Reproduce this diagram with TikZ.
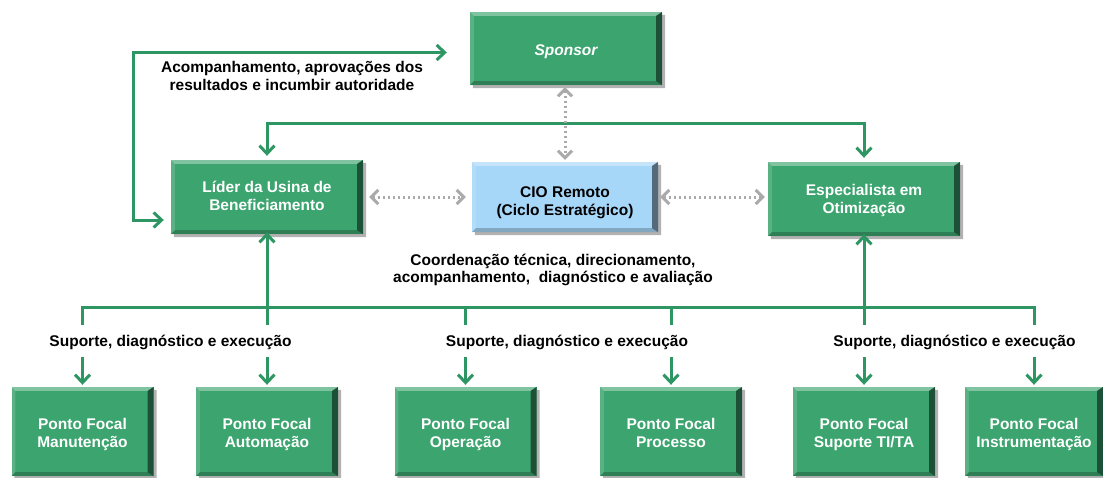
\documentclass[tikz,border=0pt]{standalone}
\usepackage{fontspec}
\setmainfont{Liberation Sans}
\usetikzlibrary{arrows.meta}

\definecolor{boxgreen}{RGB}{60,164,111}
\definecolor{linegreen}{RGB}{46,150,98}
\definecolor{cioblue}{RGB}{166,214,248}
\definecolor{dotgray}{RGB}{170,170,170}

% raised panel look: shadow below/right, light top-left edges, dark bottom-right edges
\newcommand\raisedpanel[1]{%
  \fill[gray!60] ([shift={(3,0)}]#1.south west) -- ([shift={(3,3)}]#1.south west)
    -- ([shift={(3,3)}]#1.south east) -- ([shift={(3,3)}]#1.north east)
    -- ([shift={(0,3)}]#1.north east) -- (#1.south east) -- cycle;
  \fill[white,opacity=.35] (#1.north west) -- (#1.north east)
    -- ([shift={(-6,4)}]#1.north east) -- ([shift={(4,4)}]#1.north west) -- cycle;
  \fill[white,opacity=.15] (#1.north west) -- ([shift={(4,4)}]#1.north west)
    -- ([shift={(4,-4)}]#1.south west) -- (#1.south west) -- cycle;
  \fill[black,opacity=.5] (#1.north east) -- (#1.south east)
    -- ([shift={(-6,-4)}]#1.south east) -- ([shift={(-6,4)}]#1.north east) -- cycle;
  \fill[black,opacity=.22] (#1.south west) -- (#1.south east)
    -- ([shift={(-6,-4)}]#1.south east) -- ([shift={(4,-4)}]#1.south west) -- cycle;
}

\tikzset{
  panel/.style={fill=boxgreen, inner sep=0pt},
  paneltext/.style={text=white, inner sep=0pt, align=center,
    font=\bfseries\fontsize{15.5}{18}\selectfont},
  topbox/.style={panel, minimum width=192pt, minimum height=74pt},
  pfbox/.style={panel, minimum width=142pt, minimum height=89pt},
  cioboxstyle/.style={panel, fill=cioblue, minimum width=186pt, minimum height=70pt},
  caption/.style={font=\bfseries\fontsize{15.5}{17.5}\selectfont, align=center, text=black, inner sep=0pt},
  gline/.style={draw=linegreen, line width=3pt},
  gtip/.tip={Straight Barb[length=8pt, width=15pt, line width=3pt]},
  garrow/.style={gline, -gtip},
  gboth/.style={gline, gtip-gtip},
  graytip/.tip={Straight Barb[length=7pt, width=14pt, line width=3pt]},
  gdot/.style={draw=dotgray, line width=3pt, dash pattern=on 2.5pt off 2.5pt, graytip-graytip}
}

\begin{document}
\begin{tikzpicture}[x=1pt, y=-1pt]
\useasboundingbox (0,0) rectangle (1103,477);

% upper level
\node[topbox, minimum height=73pt] (sponsor) at (566,48.5) {};
\node[topbox] (lider) at (267,197) {};
\node[cioboxstyle] (cio) at (565,197) {};
\node[topbox] (esp) at (864,199) {};

% focal points
\node[pfbox] (pfman) at (82.5,431.5) {};
\node[pfbox] (pfaut) at (267,431.5) {};
\node[pfbox] (pfope) at (465.5,431.5) {};
\node[pfbox] (pfpro) at (671,431.5) {};
\node[pfbox] (pfsup) at (864,431.5) {};
\node[pfbox, minimum width=138pt] (pfins) at (1034,431.5) {};

\foreach \n in {sponsor,lider,cio,esp,pfman,pfaut,pfope,pfpro,pfsup,pfins}
  \raisedpanel{\n};

% panel texts
\node[paneltext, font=\bfseries\itshape\fontsize{15.5}{18}\selectfont] (sponsor-t) at ([shift={(0,3)}]sponsor.center) {Sponsor};
\node[paneltext] (lider-t) at ([shift={(0,-1)}]lider.center) {Líder da Usina de\\Beneficiamento};
\node[paneltext, text=black] (cio-t) at ([shift={(0,6)}]cio.center) {CIO Remoto\\ (Ciclo Estratégico)};
\node[paneltext] (esp-t) at ([shift={(0,1.5)}]esp.center) {Especialista em\\Otimização};
\node[paneltext] (pfman-t) at ([shift={(0,2.5)}]pfman.center) {Ponto Focal\\Manutenção};
\node[paneltext] (pfaut-t) at ([shift={(0,2.5)}]pfaut.center) {Ponto Focal\\Automação};
\node[paneltext] (pfope-t) at ([shift={(0,2.5)}]pfope.center) {Ponto Focal\\Operação};
\node[paneltext] (pfpro-t) at ([shift={(0,1)}]pfpro.center) {Ponto Focal\\Processo};
\node[paneltext] (pfsup-t) at ([shift={(0,2.5)}]pfsup.center) {Ponto Focal\\Suporte TI/TA};
\node[paneltext] (pfins-t) at ([shift={(0,2.5)}]pfins.center) {Ponto Focal\\Instrumentação};

% captions
\node[caption] (capsp) at (292,76) {Acompanhamento, aprovações dos\\resultados e incumbir autoridade};
\node[caption] (capcio) at (553,270) {Coordenação técnica, direcionamento,\\acompanhamento,\ \ diagnóstico e avaliação};
\node[caption] (cap1) at (170.5,342) {Suporte, diagnóstico e execução};
\node[caption] (cap2) at (567,342) {Suporte, diagnóstico e execução};
\node[caption] (cap3) at (954.5,342) {Suporte, diagnóstico e execução};

% reference levels for the connectors
\coordinate (topbus) at (0,123);
\coordinate (bus) at (0,307);
\coordinate (stub) at (0,325);
\coordinate (tipstart) at (0,357);

% sponsor loop
\draw[gboth] ([shift={(-23,4)}]sponsor.west) -- ++(-313,0) |- ([shift={(-7,23)}]lider.west);

% leader -- specialist link
\draw[gboth] ([shift={(0,-4)}]lider.north) -- (lider.north |- topbus) -| ([shift={(0,-4)}]esp.north);

% CIO dotted links
\draw[gdot, shorten <=6pt, shorten >=6pt] (lider.east) -- (cio.west);
\draw[gdot, shorten <=2pt, shorten >=3pt] (cio.east) -- (esp.west |- cio.east);
\draw[gdot, shorten <=2pt, shorten >=2pt] (sponsor.south -| cio.north) -- (cio.north);

% lower bus
\draw[gline] (pfman.north |- stub) |- (pfins.north |- bus) -- (pfins.north |- stub);
\draw[gline] (pfope.north |- stub) -- (pfope.north |- bus);
\draw[gline] (pfpro.north |- stub) -- (pfpro.north |- bus);
\draw[garrow, shorten >=-2pt] (pfaut.north |- bus) -- (lider.south);
\draw[garrow, shorten >=-2pt] (pfsup.north |- bus) -- (esp.south);
\draw[gline] (pfaut.north |- stub) -- (pfaut.north |- bus);
\draw[gline] (pfsup.north |- stub) -- (pfsup.north |- bus);

% arrows into the focal points
\foreach \n in {pfman,pfaut,pfope,pfpro,pfsup,pfins}
  \draw[garrow, shorten >=2pt] (\n.north |- tipstart) -- (\n.north);
\end{tikzpicture}
\end{document}
